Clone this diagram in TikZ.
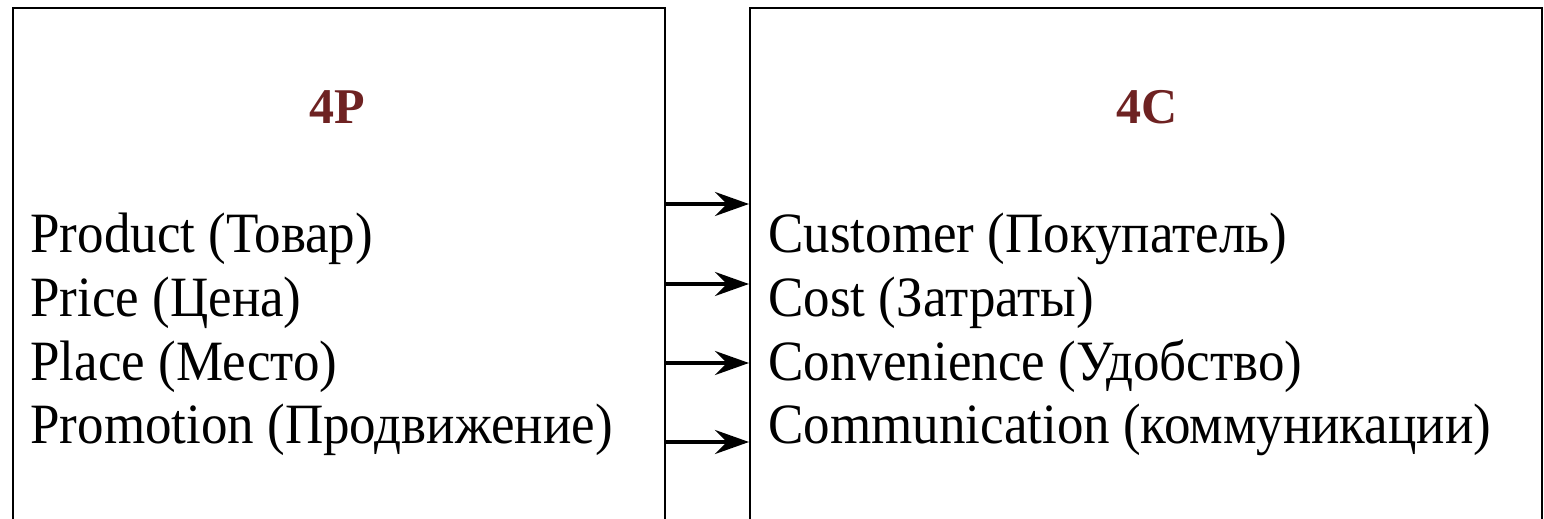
\documentclass[tikz,border=0pt]{standalone}
\usepackage{fontspec}
\setmainfont{Liberation Serif}
\newfontfamily\narrowserif{Liberation Serif}[FakeStretch=0.93]
\usetikzlibrary{arrows.meta}
\definecolor{titlered}{RGB}{110,34,34}

\begin{document}
\begin{tikzpicture}[x=0.5pt, y=-0.5pt,
  frame/.style={draw=black, line width=1pt, inner sep=0pt},
  title/.style={text=titlered, font=\fontsize{25}{30}\selectfont\bfseries},
  entry/.style={anchor=base west, inner sep=0pt, font=\narrowserif\fontsize{28.5}{34}\selectfont},
  link/.style={-{Stealth[length=17pt, width=12pt, inset=6pt]}, line width=2pt}]
\useasboundingbox (0,0) rectangle (1544,519);
\node [frame, minimum width=326pt, minimum height=280pt, anchor=north west] (lbox) at (12,7) {};
\node [frame, minimum width=396pt, minimum height=280pt, anchor=north west] (rbox) at (749,7) {};
\node [title] (lhead) at (337,107) {4P};
\node [title] (rhead) at (1147,107) {4C};
\node [entry] (p1) at (30,253) {Product (Товар)};
\node [entry] (p2) at (30,316) {Price (Цена)};
\node [entry] (p3) at (30,380) {Place (Место)};
\node [entry] (p4) at (30,443) {Promotion (Продвижение)};
\node [entry] (c1) at (768,253) {Customer (Покупатель)};
\node [entry] (c2) at (768,316) {Cost (Затраты)};
\node [entry] (c3) at (768,380) {Convenience (Удобство)};
\node [entry] (c4) at (768,443) {Communication (коммуникации)};
\foreach \i/\y in {1/204, 2/284, 3/363, 4/442} {
  \coordinate (a\i) at (700,\y);
  \draw [link] (lbox.east |- a\i) -- (rbox.west |- a\i);
}
\end{tikzpicture}
\end{document}
